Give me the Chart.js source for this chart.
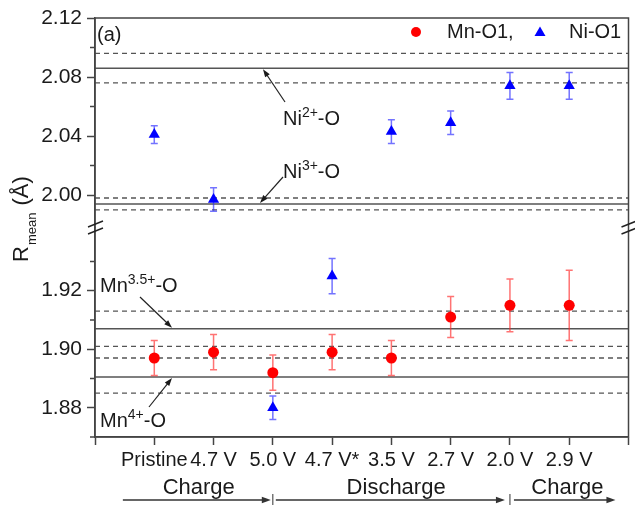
<!DOCTYPE html>
<html>
<head>
<meta charset="utf-8">
<script src="https://cdn.jsdelivr.net/npm/chart.js@4.4.1/dist/chart.umd.min.js"></script>
<style>
  html, body { margin: 0; padding: 0; background: #fff; }
</style>
</head>
<body>
<canvas id="rChart" width="635" height="505"></canvas>
<script>
var categories = ['Pristine', '4.7 V', '5.0 V', '4.7 V*', '3.5 V', '2.7 V', '2.0 V', '2.9 V'];
var mnValues = [1.897, 1.899, 1.892, 1.899, 1.897, 1.911, 1.915, 1.915];
var mnErrors = [0.006, 0.006, 0.006, 0.006, 0.006, 0.007, 0.009, 0.012];
var niValues = [2.041, 1.997, 1.880, 1.925, 2.043, 2.049, 2.074, 2.074];
var niErrors = [0.006, 0.008, 0.004, 0.006, 0.008, 0.008, 0.009, 0.009];

// axis break: upper panel / lower panel
var breakValue = 1.96;
var upperRange = [1.978, 2.12];
var lowerRange = [1.87, 1.9416];
var upperTicks = [2.00, 2.02, 2.04, 2.06, 2.08, 2.10, 2.12];
var upperLabels = [2.00, 2.04, 2.08, 2.12];
var lowerTicks = [1.87, 1.88, 1.89, 1.90, 1.91, 1.92, 1.93];
var lowerLabels = [1.88, 1.90, 1.92];

// reference bond lengths (solid) and their limits (dashed)
var refCentres = [2.086, 1.994, 1.907, 1.8905];
var refLimits = [2.096, 2.076, 1.998, 1.990, 1.913, 1.901, 1.897, 1.885];

var FONT = '"Liberation Sans", Arial, sans-serif';
var TEXT = '#1a1a1a';
var LINE = '#555';

function hasValue(list, v) {
  return list.some(function(t) { return Math.abs(t - v) < 1e-6; });
}

function points(values, errors, keep) {
  var out = [];
  values.forEach(function(v, i) {
    if (keep(v)) out.push({ x: i + 1, y: v, e: errors[i] });
  });
  return out;
}

function scaleFor(chart, v) {
  return v > breakValue ? chart.scales.yHigh : chart.scales.yLow;
}

function arrow(ctx, x1, y1, x2, y2, head) {
  var ang = Math.atan2(y2 - y1, x2 - x1);
  ctx.beginPath();
  ctx.moveTo(x1, y1);
  ctx.lineTo(x2 - Math.cos(ang) * head * 0.8, y2 - Math.sin(ang) * head * 0.8);
  ctx.stroke();
  ctx.beginPath();
  ctx.moveTo(x2, y2);
  ctx.lineTo(x2 - head * Math.cos(ang) + head * 0.35 * Math.sin(ang), y2 - head * Math.sin(ang) - head * 0.35 * Math.cos(ang));
  ctx.lineTo(x2 - head * Math.cos(ang) - head * 0.35 * Math.sin(ang), y2 - head * Math.sin(ang) + head * 0.35 * Math.cos(ang));
  ctx.closePath();
  ctx.fill();
}

function supText(ctx, x, y, base, sup, tail) {
  ctx.textAlign = 'left';
  ctx.textBaseline = 'alphabetic';
  ctx.font = '20px ' + FONT;
  ctx.fillText(base, x, y);
  x += ctx.measureText(base).width;
  ctx.font = '14px ' + FONT;
  ctx.fillText(sup, x, y - 8);
  x += ctx.measureText(sup).width;
  ctx.font = '20px ' + FONT;
  ctx.fillText(tail, x, y);
}

var decor = {
  id: 'decor',
  beforeDatasetsDraw: function(chart) {
    var ctx = chart.ctx, a = chart.chartArea;
    ctx.save();
    ctx.strokeStyle = LINE;
    ctx.lineWidth = 1.5;
    refCentres.forEach(function(v) {
      var y = scaleFor(chart, v).getPixelForValue(v);
      ctx.beginPath(); ctx.moveTo(a.left, y); ctx.lineTo(a.right, y); ctx.stroke();
    });
    ctx.setLineDash([5, 4]);
    ctx.lineWidth = 1.3;
    refLimits.forEach(function(v) {
      var y = scaleFor(chart, v).getPixelForValue(v);
      ctx.beginPath(); ctx.moveTo(a.left, y); ctx.lineTo(a.right, y); ctx.stroke();
    });
    ctx.setLineDash([]);
    // error bars
    chart.data.datasets.forEach(function(ds, di) {
      var meta = chart.getDatasetMeta(di);
      var ys = chart.scales[ds.yAxisID];
      ctx.strokeStyle = ds.errorColor;
      ctx.lineWidth = 1.5;
      meta.data.forEach(function(pt, i) {
        var d = ds.data[i];
        var top = ys.getPixelForValue(d.y + d.e), bot = ys.getPixelForValue(d.y - d.e);
        ctx.beginPath();
        ctx.moveTo(pt.x, top); ctx.lineTo(pt.x, bot);
        ctx.moveTo(pt.x - 3.5, top); ctx.lineTo(pt.x + 3.5, top);
        ctx.moveTo(pt.x - 3.5, bot); ctx.lineTo(pt.x + 3.5, bot);
        ctx.stroke();
      });
    });
    ctx.restore();
  },
  afterDraw: function(chart) {
    var ctx = chart.ctx, a = chart.chartArea;
    var xs = chart.scales.x, hi = chart.scales.yHigh, lo = chart.scales.yLow;
    ctx.save();
    // frame
    ctx.strokeStyle = '#444';
    ctx.lineWidth = 1.5;
    ctx.strokeRect(a.left, a.top, a.right - a.left, a.bottom - a.top);
    // minor ticks
    ctx.beginPath();
    upperTicks.forEach(function(v) {
      if (hasValue(upperLabels, v)) return;
      var y = hi.getPixelForValue(v);
      ctx.moveTo(a.left - 5, y); ctx.lineTo(a.left, y);
    });
    lowerTicks.forEach(function(v) {
      if (hasValue(lowerLabels, v)) return;
      var y = lo.getPixelForValue(v);
      ctx.moveTo(a.left - 5, y); ctx.lineTo(a.left, y);
    });
    ctx.stroke();
    // break marks
    var b = hi.bottom;
    ctx.lineWidth = 1.5;
    ctx.strokeStyle = '#222';
    [a.left, a.right].forEach(function(x) {
      [-3.5, 3.5].forEach(function(dy) {
        ctx.beginPath();
        ctx.moveTo(x - 7, b + dy + 3); ctx.lineTo(x + 8, b + dy - 3);
        ctx.stroke();
      });
    });

    ctx.fillStyle = TEXT;
    ctx.strokeStyle = '#222';
    ctx.lineWidth = 1.2;
    // panel label
    ctx.font = '20px ' + FONT;
    ctx.textAlign = 'left';
    ctx.textBaseline = 'alphabetic';
    ctx.fillText('(a)', a.left + 2, a.top + 23);

    // reference labels with arrows
    supText(ctx, 283, 125, 'Ni', '2+', '-O');
    arrow(ctx, 285, 102, 263, hi.getPixelForValue(refCentres[0]) + 1, 8);
    supText(ctx, 283, 178, 'Ni', '3+', '-O');
    arrow(ctx, 283, 177, 260, hi.getPixelForValue(refCentres[1]) - 1, 8);
    supText(ctx, 100, 292, 'Mn', '3.5+', '-O');
    arrow(ctx, 140, 297, 172, lo.getPixelForValue(refCentres[2]) - 1, 8);
    supText(ctx, 100, 427, 'Mn', '4+', '-O');
    arrow(ctx, 149, 407, 172, lo.getPixelForValue(refCentres[3]) + 1, 8);

    // legend
    ctx.fillStyle = '#ff0000';
    ctx.beginPath(); ctx.arc(416, 32, 5, 0, Math.PI * 2); ctx.fill();
    ctx.fillStyle = '#0000ff';
    ctx.beginPath(); ctx.moveTo(540, 26.5); ctx.lineTo(545.5, 36); ctx.lineTo(534.5, 36); ctx.closePath(); ctx.fill();
    ctx.fillStyle = TEXT;
    ctx.font = '20px ' + FONT;
    ctx.textBaseline = 'middle';
    ctx.fillText('Mn-O1,', 447, 32);
    ctx.fillText('Ni-O1', 569, 32);

    // y title with subscript
    ctx.save();
    ctx.translate(28, 262);
    ctx.rotate(-Math.PI / 2);
    ctx.textBaseline = 'alphabetic';
    ctx.font = '22px ' + FONT;
    ctx.fillText('R', 0, 0);
    var tx = ctx.measureText('R').width + 1;
    ctx.font = '13px ' + FONT;
    ctx.fillText('mean', tx, 8);
    tx += ctx.measureText('mean').width + 1;
    ctx.font = '22px ' + FONT;
    ctx.fillText(' (\u00C5)', tx, 0);
    ctx.restore();

    // process arrows below the axis
    var ay = 500;
    ctx.textAlign = 'center';
    ctx.textBaseline = 'alphabetic';
    ctx.font = '22px ' + FONT;
    ctx.fillText('Charge', xs.getPixelForValue(1.75), 494);
    ctx.fillText('Discharge', xs.getPixelForValue(5.08), 494);
    ctx.fillText('Charge', xs.getPixelForValue(7.97), 494);
    ctx.strokeStyle = '#333';
    ctx.fillStyle = '#333';
    ctx.lineWidth = 1.5;
    arrow(ctx, xs.getPixelForValue(0.47), ay, xs.getPixelForValue(3) - 2, ay, 9);
    arrow(ctx, xs.getPixelForValue(3) + 3, ay, xs.getPixelForValue(7) - 5, ay, 9);
    arrow(ctx, xs.getPixelForValue(7) + 4, ay, xs.getPixelForValue(8.78), ay, 9);
    ctx.lineWidth = 1;
    [3, 7].forEach(function(v) {
      var x = xs.getPixelForValue(v);
      ctx.beginPath(); ctx.moveTo(x, 494); ctx.lineTo(x, 505); ctx.stroke();
    });
    ctx.restore();
  }
};

function yAxis(range, ticks, labels, weight) {
  return {
    type: 'linear',
    position: 'left',
    stack: 'r',
    stackWeight: 1,
    weight: weight,
    min: range[0],
    max: range[1],
    afterBuildTicks: function(s) { s.ticks = ticks.map(function(v) { return { value: v }; }); },
    afterFit: function(s) { s.width = 95; },
    grid: {
      drawOnChartArea: false,
      tickLength: 8,
      tickWidth: 1.5,
      tickColor: function(c) {
        return c.tick && hasValue(labels, c.tick.value) ? '#444' : 'rgba(0,0,0,0)';
      }
    },
    border: { color: '#444', width: 1.5 },
    ticks: {
      autoSkip: false,
      padding: 5,
      color: TEXT,
      font: { size: 21, family: FONT },
      callback: function(v) { return hasValue(labels, v) ? v.toFixed(2) : ''; }
    }
  };
}

new Chart(document.getElementById('rChart').getContext('2d'), {
  type: 'scatter',
  data: {
    datasets: [
      {
        label: 'Mn-O1',
        data: points(mnValues, mnErrors, function() { return true; }),
        yAxisID: 'yLow',
        pointStyle: 'circle',
        pointRadius: 5.5,
        backgroundColor: '#ff0000',
        borderColor: '#ff0000',
        borderWidth: 0,
        errorColor: 'rgba(255, 40, 40, 0.65)'
      },
      {
        label: 'Ni-O1',
        data: points(niValues, niErrors, function(v) { return v > breakValue; }),
        yAxisID: 'yHigh',
        pointStyle: 'triangle',
        pointRadius: 6.5,
        backgroundColor: '#0000ff',
        borderColor: '#0000ff',
        borderWidth: 0,
        errorColor: 'rgba(40, 40, 255, 0.65)'
      },
      {
        label: 'Ni-O1 (low)',
        data: points(niValues, niErrors, function(v) { return v <= breakValue; }),
        yAxisID: 'yLow',
        pointStyle: 'triangle',
        pointRadius: 6.5,
        backgroundColor: '#0000ff',
        borderColor: '#0000ff',
        borderWidth: 0,
        errorColor: 'rgba(40, 40, 255, 0.65)'
      }
    ]
  },
  options: {
    responsive: false,
    animation: false,
    layout: { padding: { top: 18, right: 2, left: 0, bottom: 0 } },
    plugins: { legend: { display: false }, tooltip: { enabled: false } },
    scales: {
      x: {
        type: 'linear',
        position: 'bottom',
        min: 0,
        max: 9,
        afterBuildTicks: function(s) {
          s.ticks = [0, 1, 2, 3, 4, 5, 6, 7, 8, 9].map(function(v) { return { value: v }; });
        },
        afterFit: function(s) { s.height = 68; },
        grid: { drawOnChartArea: false, tickLength: 8, tickWidth: 1.5, tickColor: '#444' },
        border: { color: '#444', width: 1.5 },
        ticks: {
          autoSkip: false,
          maxRotation: 0,
          padding: 3,
          color: TEXT,
          font: { size: 20, family: FONT },
          callback: function(v) { return categories[v - 1] || ''; }
        }
      },
      yHigh: yAxis(upperRange, upperTicks, upperLabels, 2),
      yLow: yAxis(lowerRange, lowerTicks, lowerLabels, 1)
    }
  },
  plugins: [decor]
});
</script>
</body>
</html>
